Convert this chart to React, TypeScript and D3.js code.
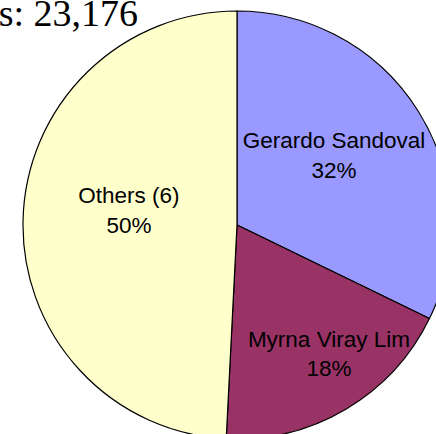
import React from "react";
import * as d3 from "d3";

const candidates = ["Gerardo Sandoval", "Myrna Viray Lim", "Others (6)"];
const votes = [7463, 4311, 11402];
const percentLabels = ["32%", "18%", "50%"];
const colors = ["#9999ff", "#993366", "#ffffcc"];
const titleText = "Votes: 23,176";

// label anchor layout (angle in degrees clockwise from top, radius fraction)
const labelLayout = [
  { angle: 54.2, rf: 0.559 },
  { angle: 144.5, rf: 0.74 },
  { angle: 277.9, rf: 0.51 },
];

const W = 436;
const H = 434;
const cx = 237;
const cy = 225;
const R = 214;

export default function App() {
  const pie = d3.pie<number>().sort(null).value((d) => d)(votes);
  const arc = d3.arc<d3.PieArcDatum<number>>().innerRadius(0).outerRadius(R);
  return (
    <svg
      width={W}
      height={H}
      style={{ position: "fixed", left: 0, top: 0, background: "#fff" }}
    >
      <g transform={`translate(${cx},${cy})`}>
        {pie.map((p, i) => (
          <path
            key={i}
            d={arc(p) || ""}
            fill={colors[i]}
            stroke="#000"
            strokeWidth={1.2}
          />
        ))}
        {pie.map((p, i) => {
          const a = (labelLayout[i].angle * Math.PI) / 180;
          const rr = labelLayout[i].rf * R;
          const x = rr * Math.sin(a);
          const y = -rr * Math.cos(a);
          return (
            <text
              key={"t" + i}
              x={x}
              y={y}
              textAnchor="middle"
              fontFamily="'Liberation Sans', Arial, sans-serif"
              fontSize={22.5}
              fill="#000"
            >
              <tspan x={x} y={y - 7}>
                {candidates[i]}
              </tspan>
              <tspan x={x} y={y + 22.5}>
                {percentLabels[i]}
              </tspan>
            </text>
          );
        })}
      </g>
      <text
        x={138}
        y={25.5}
        textAnchor="end"
        fontFamily="'Liberation Serif', 'Times New Roman', serif"
        fontSize={38}
        fill="#000"
      >
        {titleText}
      </text>
    </svg>
  );
}
